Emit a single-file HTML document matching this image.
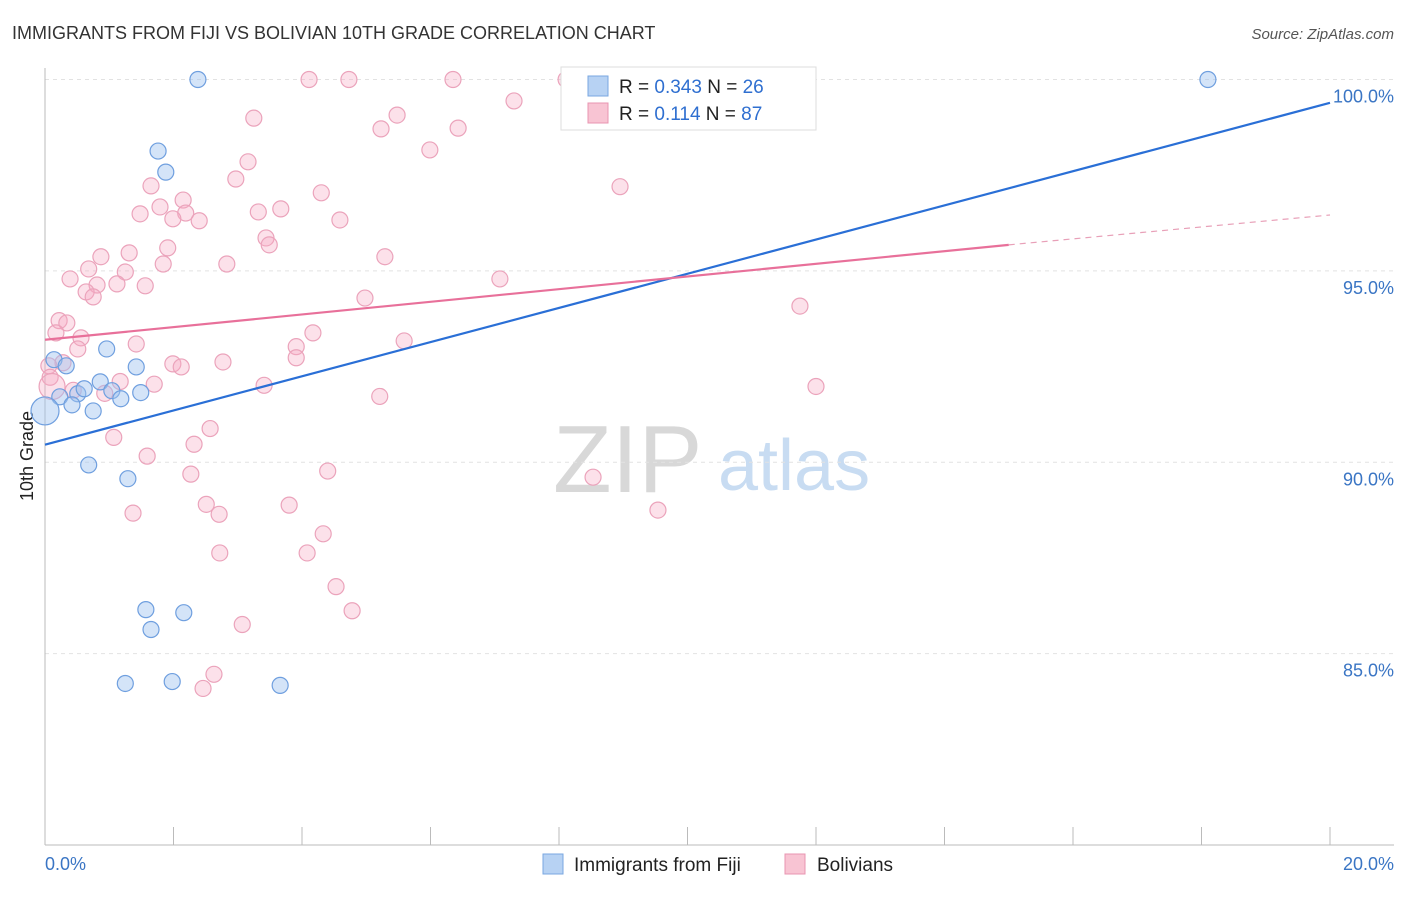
<!DOCTYPE html>
<html><head><meta charset="utf-8"><style>
body{margin:0;background:#fff;font-family:"Liberation Sans",sans-serif;}
svg text{font-family:"Liberation Sans",sans-serif;}
</style></head><body>
<svg id="c" width="1406" height="892" xmlns="http://www.w3.org/2000/svg">
<text x="12" y="39" font-size="18" fill="#333">IMMIGRANTS FROM FIJI VS BOLIVIAN 10TH GRADE CORRELATION CHART</text>
<text x="1394" y="39" font-size="15" fill="#555" font-style="italic" text-anchor="end">Source: ZipAtlas.com</text>
<text transform="translate(33,456) rotate(-90)" font-size="18" fill="#222" text-anchor="middle">10th Grade</text>
<g>
<text x="553" y="492" font-size="96" fill="#d8d8d8" font-family="Liberation Serif">ZIP</text>
<text x="718" y="490" font-size="72" fill="#c8dcf2">atlas</text>
</g>
<g id="grid"></g><g id="axes"></g><g id="pts"></g><g id="lines"></g>
<g>
<rect x="561" y="67" width="255" height="63" fill="#fff" stroke="#ddd"/>
<rect x="588" y="76" width="20" height="20" fill="#b7d2f3" stroke="#7aa7e0"/>
<text x="619" y="93" font-size="19" fill="#222">R = <tspan fill="#2f6fd0">0.343</tspan>   N = <tspan fill="#2f6fd0">26</tspan></text>
<rect x="588" y="103" width="20" height="20" fill="#f8c4d3" stroke="#e895b0"/>
<text x="619" y="120" font-size="19" fill="#222">R =  <tspan fill="#2f6fd0">0.114</tspan>   N = <tspan fill="#2f6fd0">87</tspan></text>
</g>
<g>
<rect x="543" y="854" width="20" height="20" fill="#b7d2f3" stroke="#7aa7e0"/>
<text x="574" y="871" font-size="19" fill="#222">Immigrants from Fiji</text>
<rect x="785" y="854" width="20" height="20" fill="#f8c4d3" stroke="#e895b0"/>
<text x="817" y="871" font-size="19" fill="#222">Bolivians</text>
</g>
</svg>
<script>
const yTicks=[85,90,95,100];
const yTickLabels=["85.0%","90.0%","95.0%","100.0%"];
const xEndLabels=["0.0%","20.0%"];
const fijiX=[2.38,18.10,1.76,1.88,0.14,0.33,0.96,1.42,0.23,0.51,0.61,0.86,1.04,1.18,1.49,0.42,0.75,0,0.68,1.29,1.57,2.16,1.65,1.25,1.98,3.66];
const fijiY=[100,100,98.13,97.58,92.68,92.52,92.96,92.49,91.71,91.79,91.92,92.10,91.87,91.66,91.82,91.50,91.34,91.34,89.93,89.57,86.15,86.07,85.63,84.22,84.27,84.17];
const bolX=[4.11,4.73,6.35,8.11,7.30,3.25,5.48,5.23,6.43,5.99,3.16,2.97,1.65,8.95,4.30,2.15,1.79,1.48,2.19,3.32,3.67,1.99,2.40,4.59,3.44,3.49,1.91,1.31,0.87,5.29,2.83,1.84,0.68,1.25,0.39,1.12,0.81,1.56,7.08,0.64,0.75,4.98,11.75,0.22,0.34,0.17,4.17,0.56,1.42,0.51,5.59,3.91,3.91,0.28,0.06,1.99,2.77,2.12,0.08,1.17,1.70,3.41,0.44,0.93,5.21,12.00,2.57,1.07,2.32,1.59,4.40,2.27,8.53,2.51,3.80,2.71,1.37,9.54,4.33,2.72,4.08,4.53,4.78,3.07,2.63,2.46,0.11];
const bolY=[100,100,100,100,99.44,98.99,99.07,98.71,98.73,98.16,97.85,97.40,97.22,97.20,97.04,96.85,96.67,96.49,96.51,96.54,96.62,96.36,96.31,96.33,95.86,95.68,95.60,95.47,95.37,95.37,95.18,95.18,95.05,94.97,94.79,94.66,94.63,94.61,94.79,94.45,94.32,94.29,94.08,93.70,93.64,93.38,93.38,93.25,93.09,92.96,93.17,93.02,92.73,92.60,92.52,92.57,92.62,92.49,92.22,92.11,92.04,92.01,91.88,91.80,91.72,91.98,90.88,90.65,90.47,90.16,89.77,89.69,89.61,88.90,88.88,88.64,88.67,88.75,88.13,87.63,87.63,86.75,86.12,85.76,84.46,84.09,91.98];
const fijiTrend=[90.46,99.39];
const bolTrend=[93.20,95.68,96.46];
const bolSolidEnd=15;
const NS="http://www.w3.org/2000/svg";
const X=v=>45+v/20*1285, Y=v=>845-(v-80)/20*765.5;
function mk(t,a,p){const e=document.createElementNS(NS,t);for(const k in a)e.setAttribute(k,a[k]);document.getElementById(p).appendChild(e);return e;}
yTicks.forEach((t,i)=>{
 const g=mk('line',{x1:45,x2:1394,y1:Y(t),y2:Y(t),stroke:'#e2e2e2','stroke-dasharray':'4,4'},'grid');
 
 
 const l=mk('text',{x:1394,y:Y(t)+23,'font-size':18,fill:'#3a75c4','text-anchor':'end'},'axes');l.textContent=yTickLabels[i];
 
 
});
const ax=mk('line',{x1:45,x2:45,y1:68,y2:845,stroke:'#bbb'},'axes');


const bx=mk('line',{x1:45,x2:1394,y1:845,y2:845,stroke:'#bbb'},'axes');


for(let i=0;i<=10;i++){const t=mk('line',{x1:X(i*2),x2:X(i*2),y1:827,y2:845,stroke:'#bbb'},'axes');
 
 }
[[0,'start',45],[20,'end',1394]].forEach((d,i)=>{const t=mk('text',{x:d[2],y:870,'font-size':18,fill:'#3a75c4','text-anchor':d[1]},'axes');t.textContent=xEndLabels[i];
 
 });
bolX.forEach((x,i)=>{const big=i===bolX.length-1;const c=mk('circle',{cx:X(x),cy:Y(bolY[i]),r:big?13:8,fill:'rgba(245,170,195,0.35)',stroke:'#eba3bb','stroke-width':1.2},'pts');
 
 });
fijiX.forEach((x,i)=>{const big=i===17;const c=mk('circle',{cx:X(x),cy:Y(fijiY[i]),r:big?14:8,fill:'rgba(160,195,240,0.45)',stroke:'#6f9fdf','stroke-width':1.2},'pts');
 
 });
const bl=mk('line',{x1:X(0),y1:Y(fijiTrend[0]),x2:X(20),y2:Y(fijiTrend[1]),stroke:'#2a6fd6','stroke-width':2.2},'lines');


const pl=mk('line',{x1:X(0),y1:Y(bolTrend[0]),x2:X(bolSolidEnd),y2:Y(bolTrend[1]),stroke:'#e8709a','stroke-width':2.2},'lines');


const pd=mk('line',{x1:X(bolSolidEnd),y1:Y(bolTrend[1]),x2:X(20),y2:Y(bolTrend[2]),stroke:'#e8a0b8','stroke-width':1.2,'stroke-dasharray':'6,5'},'lines');


</script>
</body></html>
